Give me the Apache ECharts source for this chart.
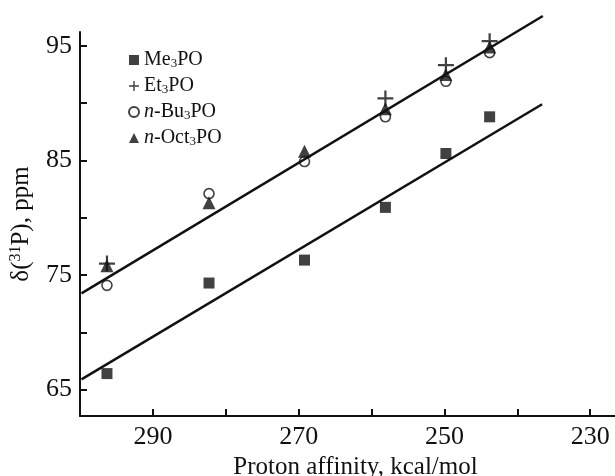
<!DOCTYPE html>
<html>
<head>
<meta charset="utf-8">
<script src="https://cdn.jsdelivr.net/npm/echarts@6/dist/echarts.min.js"></script>
<style>
  html, body { margin: 0; padding: 0; background: #fff; }
  #myChart { width: 615px; height: 476px; }
</style>
</head>
<body>
<div id="myChart"></div>
<script>
// proton affinity (kcal/mol) of each compound row
const affinity = [296.3, 282.3, 269.2, 258.1, 249.8, 243.8];
// delta(31P), ppm
const me3po = [66.4, 74.3, 76.3, 80.9, 85.6, 88.8];
const et3po = [76.0, null, null, 90.4, 93.3, 95.4];
const bu3po = [74.1, 82.1, 84.9, 88.8, 91.9, 94.4];
const oct3po = [75.8, 81.3, 85.8, 89.5, 92.5, 94.9];
// fitted lines, [affinity, shift] end points
const fitUpper = [[299.8, 73.4], [236.5, 97.6]];
const fitLower = [[299.8, 65.9], [236.6, 89.9]];
// ticks
const xTicks = [290, 280, 270, 260, 250, 240, 230];
const xLabels = [290, 270, 250, 230];
const yTicks = [65, 70, 75, 80, 85, 90, 95];
const yLabels = [65, 75, 85, 95];

const FONT = "'Liberation Serif', 'Times New Roman', serif";

function pts(ys) {
   return affinity.map((x, i) => [x, ys[i]]).filter(p => p[1] != null);
}

const plusPath = 'path://M4.3,0 H5.7 V4.3 H10 V5.7 H5.7 V10 H4.3 V5.7 H0 V4.3 H4.3 Z';

const legendNames = {
   'Me3PO': '{n|Me}{s|3}{n|PO}',
   'Et3PO': '{n|Et}{s|3}{n|PO}',
   'n-Bu3PO': '{i|n}{n|-Bu}{s|3}{n|PO}',
   'n-Oct3PO': '{i|n}{n|-Oct}{s|3}{n|PO}'
};

const option = {
   animation: false,
   backgroundColor: '#fff',
   textStyle: { fontFamily: FONT, color: '#111' },
   grid: { left: 80, right: 0, top: 32, bottom: 60, outerBoundsMode: 'none', containLabel: false },
   legend: {
      data: ['Me3PO', 'Et3PO', 'n-Bu3PO', 'n-Oct3PO'],
      orient: 'vertical',
      left: 123,
      top: 45,
      itemGap: 6,
      itemWidth: 10,
      itemHeight: 10,
      formatter: name => legendNames[name],
      textStyle: {
         fontFamily: FONT,
         color: '#111',
         rich: {
            n: { fontFamily: FONT, fontSize: 20, color: '#111', lineHeight: 20 },
            i: { fontFamily: FONT, fontSize: 20, color: '#111', fontStyle: 'italic', lineHeight: 20 },
            s: { fontFamily: FONT, fontSize: 13, color: '#111', verticalAlign: 'bottom', lineHeight: 12 }
         }
      }
   },
   xAxis: {
      type: 'value',
      inverse: true,
      min: 226.6,
      max: 300,
      name: 'Proton affinity, kcal/mol',
      nameLocation: 'middle',
      nameGap: 36,
      nameTextStyle: { fontFamily: FONT, fontSize: 25, color: '#111', padding: [0, 0, 0, 16] },
      axisLine: { lineStyle: { color: '#111', width: 2 } },
      axisTick: { inside: true, length: 7, customValues: xTicks, lineStyle: { color: '#111', width: 2 } },
      axisLabel: { customValues: xLabels, fontFamily: FONT, fontSize: 26, color: '#111', margin: 8 },
      splitLine: { show: false }
   },
   yAxis: {
      type: 'value',
      min: 62.7,
      max: 96.2,
      name: '{a|δ(}{p|31}{a|P), ppm}',
      nameLocation: 'middle',
      nameGap: 46,
      nameRotate: 90,
      nameTextStyle: {
         rich: {
            a: { fontFamily: FONT, fontSize: 25, color: '#111', lineHeight: 26 },
            p: { fontFamily: FONT, fontSize: 16, color: '#111', verticalAlign: 'top', lineHeight: 16 }
         }
      },
      axisLine: { lineStyle: { color: '#111', width: 2 } },
      axisTick: { inside: true, length: 7, customValues: yTicks, lineStyle: { color: '#111', width: 2 } },
      axisLabel: { customValues: yLabels, fontFamily: FONT, fontSize: 26, color: '#111', margin: 8 },
      splitLine: { show: false }
   },
   series: [
      {
         type: 'line', data: fitUpper, symbol: 'none', clip: false, silent: true,
         lineStyle: { color: '#111', width: 2.5 }
      },
      {
         type: 'line', data: fitLower, symbol: 'none', clip: false, silent: true,
         lineStyle: { color: '#111', width: 2.5 }
      },
      {
         name: 'Me3PO', type: 'scatter', data: pts(me3po), symbol: 'rect', symbolSize: 11,
         itemStyle: { color: '#111' }
      },
      {
         name: 'Et3PO', type: 'scatter', data: pts(et3po), symbol: plusPath, symbolSize: 16,
         itemStyle: { color: '#111' }
      },
      {
         name: 'n-Bu3PO', type: 'scatter', data: pts(bu3po), symbol: 'circle', symbolSize: 10,
         itemStyle: { color: '#fff', borderColor: '#111', borderWidth: 1.6 }
      },
      {
         name: 'n-Oct3PO', type: 'scatter', data: pts(oct3po), symbol: 'triangle', symbolSize: 13,
         itemStyle: { color: '#111' }
      }
   ]
};

let ECharts = echarts.init(document.getElementById("myChart"));
ECharts.setOption(option);
</script>
</body>
</html>
